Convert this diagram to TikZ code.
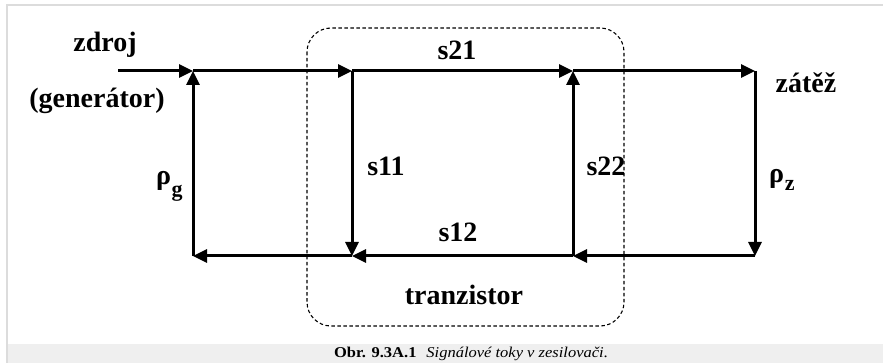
\documentclass[tikz,border=0pt]{standalone}
\usepackage{fontspec}
\setmainfont{Liberation Serif}
\usetikzlibrary{arrows.meta}
\definecolor{framegray}{HTML}{DCDCDC}
\definecolor{bandgray}{HTML}{EFEFEF}
\tikzset{
  flow/.style={line width=3pt,-{Triangle[length=14pt,width=13pt]}},
  lab/.style={font=\fontsize{28}{30}\selectfont\bfseries,anchor=base,inner sep=0pt},
  box/.style={dashed,dash pattern=on 3.5pt off 2.5pt,line width=1.1pt,rounded corners=24pt},
}
\begin{document}
\begin{tikzpicture}[x=1pt,y=-1pt]
\useasboundingbox (0,0) rectangle (883,363);
% frame and caption band
\fill[bandgray] (8,344) rectangle (883,363);
\draw[framegray,line width=2pt] (7,363) -- (7,5) -- (883,5);
% tranzistor box
\draw[box] (307,28) rectangle (624,326);
% junctions
\coordinate (in) at (118,71);
\coordinate (A) at (193,71);
\coordinate (B) at (352,71);
\coordinate (C) at (573,71);
\coordinate (D) at (755,71);
\coordinate (A2) at (193,256);
\coordinate (B2) at (352,256);
\coordinate (C2) at (573,256);
\coordinate (D2) at (755,256);
% flows
\draw[flow] (in) -- (A);
\draw[flow] (A) -- (B);
\draw[flow] (B) -- (C);
\draw[flow] (C) -- (D);
\draw[flow] (D) -- (D2);
\draw[flow] (D2) -- (C2);
\draw[flow] (C2) -- (B2);
\draw[flow] (B2) -- (A2);
\draw[flow] (A2) -- (A);
\draw[flow] (B) -- (B2);
\draw[flow] (C2) -- (C);
% labels
\node[lab] (zdroj) at (105,52) {zdroj};
\node[lab] (gen) at (97,108) {(generátor)};
\node[lab] (s21) at (457,60) {s21};
\node[lab] (s11) at (386,176) {s11};
\node[lab] (s22) at (606,176) {s22};
\node[lab] (s12) at (458,242) {s12};
\node[lab] (tr) at (464,305) {tranzistor};
\node[lab] (zat) at (806,93) {zátěž};
\node[lab,anchor=base west] (rg) at (156,185) {ρ\kern0.02em\raisebox{-0.42em}{\fontsize{22}{22}\selectfont g}};
\node[lab,anchor=base west] (rz) at (769,183) {ρ\kern0.02em\raisebox{-0.28em}{\fontsize{22}{22}\selectfont z}};
% caption
\node[anchor=base,inner sep=0pt] (cap) at (471,357) {\scalebox{1.1}[1]{\fontsize{15}{17}\selectfont\textbf{Obr. 9.3A.1}\hspace{0.6em}\textit{Signálové toky v zesilovači}.}};
\end{tikzpicture}
\end{document}
